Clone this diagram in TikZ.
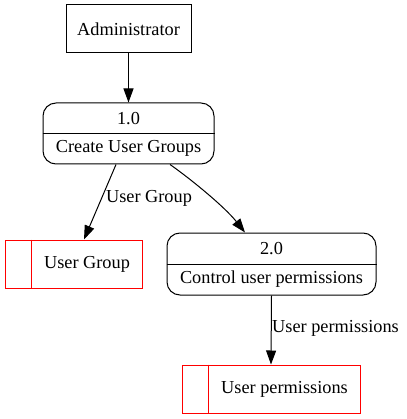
\documentclass[tikz,border=0pt]{standalone}
\usepackage{fontspec}
\setmainfont{Liberation Serif}
\usetikzlibrary{arrows.meta}
\begin{document}
\begin{tikzpicture}[x=1pt,y=-1pt,
  every node/.style={font=\fontsize{18.3pt}{20pt}\selectfont, inner sep=0pt},
  entity/.style={draw, line width=1pt, minimum width=125pt, minimum height=48pt},
  proc/.style={draw, line width=1pt, rounded corners=13pt},
  store/.style={draw=red, line width=1pt, minimum height=48pt},
  flow/.style={line width=1pt, -{Triangle[length=14pt,width=10pt]}}]
\useasboundingbox (0,0) rectangle (406,419);
% external entity
\node[entity] (admin) at (128.5,29) {Administrator};
% process 1.0
\node[proc, minimum width=171pt, minimum height=61pt] (p1) at (128.5,133.5) {};
\draw[line width=1pt] (p1.west) -- (p1.east);
\node (p1n) at ([yshift=15pt]p1.center) {1.0};
\node (p1t) at ([yshift=-15pt]p1.center) {Create User Groups};
% process 2.0
\node[proc, minimum width=209pt, minimum height=62pt] (p2) at (271.5,264) {};
\draw[line width=1pt] (p2.west) -- (p2.east);
\node (p2n) at ([yshift=15pt]p2.center) {2.0};
\node (p2t) at ([yshift=-15pt]p2.center) {Control user permissions};
% data stores
\node[store, minimum width=137pt] (ug) at (73.5,264) {};
\draw[red, line width=1pt] ([xshift=27pt]ug.north west) -- ([xshift=27pt]ug.south west);
\node (ugt) at (87,264) {User Group};
\node[store, minimum width=178pt] (up) at (271,389) {};
\draw[red, line width=1pt] ([xshift=27pt]up.north west) -- ([xshift=27pt]up.south west);
\node (upt) at (284.5,389) {User permissions};
% flows
\draw[flow] (admin.south) -- (p1.north);
\draw[flow] ([xshift=-12.5pt]p1.south) -- ([xshift=10.5pt]ug.north);
\node (l1) at (149,198) {User Group};
\draw[flow] ([xshift=41.5pt]p1.south) .. controls (188,177) and (224,206) .. ([xshift=-26.5pt]p2.north);
\draw[flow] (p2.south) -- (up.north);
\node[anchor=west] (l2) at (272,328) {User permissions};
\end{tikzpicture}
\end{document}
